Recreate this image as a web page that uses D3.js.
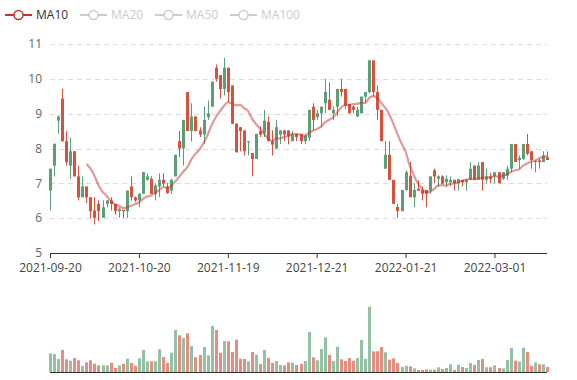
<!DOCTYPE html>
<html><head><meta charset="utf-8">
<script src="https://cdn.jsdelivr.net/npm/d3@7/dist/d3.min.js"></script>
<style>body{margin:0;background:#fff}svg{display:block;font-family:"Open Sans","Noto Sans",sans-serif}</style>
</head><body><svg id="c" width="577" height="380"></svg>
<script>
const dates = [
"2021-09-20","2021-09-21","2021-09-22","2021-09-23","2021-09-24","2021-09-27","2021-09-28","2021-09-29","2021-09-30",
"2021-10-01","2021-10-04","2021-10-05","2021-10-06","2021-10-07","2021-10-08","2021-10-11","2021-10-12","2021-10-13","2021-10-14","2021-10-15","2021-10-18","2021-10-19","2021-10-20","2021-10-21","2021-10-22","2021-10-25","2021-10-26","2021-10-27","2021-10-28","2021-10-29",
"2021-11-01","2021-11-02","2021-11-03","2021-11-04","2021-11-05","2021-11-08","2021-11-09","2021-11-10","2021-11-11","2021-11-12","2021-11-15","2021-11-16","2021-11-17","2021-11-18","2021-11-19","2021-11-22","2021-11-23","2021-11-24","2021-11-25","2021-11-26","2021-11-29","2021-11-30",
"2021-12-01","2021-12-02","2021-12-03","2021-12-06","2021-12-07","2021-12-08","2021-12-09","2021-12-10","2021-12-13","2021-12-14","2021-12-15","2021-12-16","2021-12-17","2021-12-20","2021-12-21","2021-12-22","2021-12-23","2021-12-24","2021-12-27","2021-12-28","2021-12-29","2021-12-30","2021-12-31",
"2022-01-04","2022-01-05","2022-01-06","2022-01-07","2022-01-10","2022-01-11","2022-01-12","2022-01-13","2022-01-14","2022-01-17","2022-01-18","2022-01-19","2022-01-20","2022-01-21","2022-01-24","2022-01-25","2022-01-26","2022-01-27","2022-01-28",
"2022-02-07","2022-02-08","2022-02-09","2022-02-10","2022-02-11","2022-02-14","2022-02-15","2022-02-16","2022-02-17","2022-02-18","2022-02-21","2022-02-22","2022-02-23","2022-02-24","2022-02-25","2022-02-28",
"2022-03-01","2022-03-02","2022-03-03","2022-03-04","2022-03-07","2022-03-08","2022-03-09","2022-03-10","2022-03-11","2022-03-14","2022-03-15","2022-03-16","2022-03-17","2022-03-18"];

const open = [6.79,7.51,8.8,9.43,8.21,7.51,7.92,7.2,6.6,6.91,6.6,6.22,6.41,6.01,6.41,6.51,6.41,6.2,6.24,6.2,
6.91,6.6,6.51,6.7,7.1,7.13,6.7,6.91,7.1,6.9,6.79,7.2,8.21,8.0,9.62,8.5,8.92,8.52,8.4,8.9,
9.2,10.32,10.11,9.71,10.32,9.81,8.71,8.61,8.52,8.18,7.87,7.7,8.5,8.44,8.76,8.21,8.0,8.4,8.52,8.52,
8.21,8.42,8.42,8.21,8.31,9.2,8.9,9.01,9.3,9.4,9.01,9.2,9.71,9.71,9.28,9.2,8.92,9.01,9.49,9.62,
10.53,9.62,9.11,7.42,7.82,7.1,6.32,6.2,6.81,7.22,6.6,6.84,6.81,6.81,6.79,7.37,7.13,7.2,7.03,7.03,
7.1,7.0,7.1,7.03,7.1,7.51,7.1,7.61,7.1,7.2,7.2,7.32,7.13,7.22,7.42,8.13,7.67,7.7,8.13,7.92,
7.61,7.66,7.61,7.75];
const close = [7.42,8.13,8.92,8.21,7.61,7.92,7.2,6.6,6.91,6.6,6.2,6.01,6.2,6.31,6.51,6.41,6.2,6.27,6.2,6.79,
6.6,6.51,6.7,7.32,7.2,6.7,6.94,7.1,6.99,6.72,7.1,7.82,8.0,8.82,8.5,8.92,8.5,8.4,8.82,9.01,
9.92,10.0,9.71,10.32,9.62,8.71,7.89,8.5,7.92,8.21,7.7,8.42,8.4,8.8,8.21,8.11,8.61,8.52,8.4,8.35,
8.4,8.33,8.21,8.37,9.11,8.82,9.01,9.2,9.62,9.11,9.11,9.71,9.62,9.23,9.01,9.11,9.11,9.49,9.62,10.53,
9.62,9.11,8.21,7.82,7.1,6.41,6.2,6.81,7.32,6.6,6.81,6.79,6.7,6.7,7.2,7.2,7.2,6.99,7.13,7.1,
7.0,7.12,7.03,7.1,7.42,7.1,7.51,7.1,7.2,7.13,7.32,7.0,7.32,7.42,8.13,7.61,7.73,8.13,7.85,7.67,
7.64,7.61,7.8,7.67];
const low = [6.22,7.2,8.42,8.2,7.51,7.13,7.2,6.51,6.6,6.43,6.01,5.82,5.92,6.01,6.31,6.22,6.1,6.01,6.01,6.01,
6.5,6.46,6.31,6.7,7.08,6.7,6.51,6.6,6.91,6.7,6.7,7.2,7.75,7.51,8.5,8.2,8.5,8.33,8.13,8.82,
9.2,9.92,9.43,9.52,9.33,8.71,7.89,7.92,7.8,7.8,7.2,7.7,8.33,8.33,8.21,7.8,8.0,8.13,8.21,8.12,
8.21,8.21,8.13,8.13,8.21,8.52,8.82,8.61,9.01,9.11,8.82,8.92,9.49,9.14,9.01,9.01,8.9,9.01,9.3,9.59,
9.49,8.82,8.21,7.42,7.1,6.41,6.01,6.2,6.78,6.6,6.32,6.79,6.51,6.31,6.7,7.0,6.91,6.99,6.91,6.91,
6.79,6.79,6.91,6.79,7.1,7.1,7.1,6.79,7.0,7.0,7.0,7.0,7.1,7.1,7.32,7.61,7.42,7.67,7.8,7.42,
7.32,7.42,7.61,7.67];
const high = [7.42,8.15,8.95,9.71,8.5,8.31,7.92,7.51,7.2,6.91,6.6,6.6,6.51,6.51,6.51,6.6,6.41,6.31,6.24,6.79,
7.2,6.62,6.72,7.32,7.29,7.2,7.0,7.29,7.29,7.01,7.13,7.82,8.5,8.82,9.62,9.3,8.92,8.61,9.2,9.38,
9.92,10.41,10.11,10.6,10.32,9.81,8.73,8.61,8.52,8.21,7.87,8.42,8.63,9.11,8.92,8.52,8.82,8.52,8.52,8.52,
8.5,8.42,8.42,8.42,9.11,9.3,9.11,9.2,10.0,9.9,9.2,9.71,10.0,9.71,9.28,9.23,9.2,9.49,9.62,10.55,
10.53,9.81,9.11,8.21,8.21,7.1,6.41,6.81,7.37,7.61,7.0,7.08,6.91,6.81,7.2,7.42,7.23,7.23,7.23,7.2,
7.1,7.12,7.1,7.12,7.61,7.51,7.61,7.61,7.42,7.29,7.32,7.32,7.32,7.51,8.13,8.13,7.8,8.13,8.42,7.92,
7.66,7.7,7.92,7.92];
const volume = [187,180,130,220,127,113,140,117,60,97,117,83,67,67,67,93,40,67,83,133,
90,63,137,220,107,107,107,227,150,90,193,420,367,340,387,260,147,170,250,167,
460,420,193,310,307,200,323,133,130,107,200,173,80,220,140,90,110,70,67,97,
93,70,80,110,400,147,117,230,347,170,110,253,127,110,140,113,140,320,130,653,
207,207,250,197,123,137,90,50,63,57,37,20,20,27,23,23,47,30,40,77,
20,73,50,40,90,70,120,130,47,47,67,40,37,120,240,113,103,243,200,63,
97,77,77,50];
const yTicks = [5,6,7,8,9,10,11];
const xTickLabels = ["2021-09-20","2021-10-20","2021-11-19","2021-12-21","2022-01-21","2022-03-01"];
const legendNames = ["MA10","MA20","MA50","MA100"];
const legendActive = [true,false,false,false];
const maWindow = 10;

const upColor = "#5b9f77", downColor = "#d9503c", maColor = "#c23531";
const svg = d3.select("#c");
const L = 50, R = 547, T = 44, B = 253, VT = 306, VB = 372;

const x = d3.scalePoint().domain(dates).range([L, R]);
const y = d3.scaleLinear().domain([5, 11]).range([B, T]);
const vy = d3.scaleLinear().domain([0, 660]).range([VB, VT]);

// grid lines
svg.append("g").selectAll("line").data(yTicks.filter(v => v > 5)).join("line")
  .attr("x1", L).attr("x2", R).attr("y1", d => Math.round(y(d)) + 0.5).attr("y2", d => Math.round(y(d)) + 0.5)
  .attr("stroke", "#dcdcdc").attr("stroke-dasharray", "5,4");
svg.append("g").selectAll("text").data(yTicks).join("text")
  .attr("x", L - 8).attr("y", d => y(d)).attr("dy", "0.35em").attr("text-anchor", "end")
  .attr("font-size", 12).attr("fill", "#666").text(d => d);

// x axis
const xAxis = d3.axisBottom(x).tickValues(xTickLabels).tickSize(5).tickPadding(5);
const gx = svg.append("g").attr("transform", `translate(0,${B})`).call(xAxis);
gx.select(".domain").attr("stroke", "#333").attr("d", `M${L},0.5H${R}`);
gx.selectAll(".tick line").attr("stroke", "#333");
gx.selectAll(".tick text").attr("font-size", 12).attr("fill", "#444").attr("font-family", '"Open Sans","Noto Sans",sans-serif');

// candles
const idx = d3.range(dates.length);
const cg = svg.append("g");
cg.selectAll("line").data(idx).join("line")
  .attr("x1", i => Math.round(x(dates[i])) + 0.5).attr("x2", i => Math.round(x(dates[i])) + 0.5)
  .attr("y1", i => y(high[i])).attr("y2", i => y(low[i]))
  .attr("stroke", i => close[i] >= open[i] ? upColor : downColor).attr("stroke-width", 1);
cg.selectAll("rect").data(idx).join("rect")
  .attr("x", i => Math.round(x(dates[i])) - 1)
  .attr("width", 3)
  .attr("y", i => y(Math.max(open[i], close[i])))
  .attr("height", i => Math.max(1, Math.abs(y(open[i]) - y(close[i]))))
  .attr("fill", i => close[i] >= open[i] ? upColor : downColor);

// MA10
const ma = idx.map(i => i < maWindow - 1 ? null : d3.mean(close.slice(i - maWindow + 1, i + 1)));
const line = d3.line().defined(i => ma[i] != null).x(i => x(dates[i])).y(i => y(ma[i])).curve(d3.curveMonotoneX);
svg.append("path").attr("d", line(idx)).attr("fill", "none").attr("stroke", maColor)
  .attr("stroke-opacity", 0.5).attr("stroke-width", 2.2);

// volume
svg.append("g").selectAll("rect").data(idx).join("rect")
  .attr("x", i => Math.round(x(dates[i])) - 1).attr("width", 3)
  .attr("y", i => vy(volume[i])).attr("height", i => VB - vy(volume[i]))
  .attr("fill", i => close[i] >= open[i] ? upColor : downColor).attr("fill-opacity", 0.65);
svg.append("line").attr("x1", L).attr("x2", R).attr("y1", VB + 0.5).attr("y2", VB + 0.5).attr("stroke", "#333");

// legend
const lg = svg.append("g").selectAll("g").data(legendNames).join("g")
  .attr("transform", (d, i) => `translate(${5 + i * 75},15)`);
lg.append("line").attr("x1", 0).attr("x2", 27).attr("y1", 0).attr("y2", 0)
  .attr("stroke", (d, i) => legendActive[i] ? maColor : "#ccc").attr("stroke-width", 2);
lg.append("circle").attr("cx", 13.5).attr("cy", 0).attr("r", 4.5).attr("fill", "#fff")
  .attr("stroke", (d, i) => legendActive[i] ? maColor : "#ccc").attr("stroke-width", 1.5);
lg.append("text").attr("x", 31).attr("y", 0).attr("dy", "0.35em").attr("font-size", 12)
  .attr("fill", (d, i) => legendActive[i] ? "#333" : "#ccc").text(d => d);
</script></body></html>
